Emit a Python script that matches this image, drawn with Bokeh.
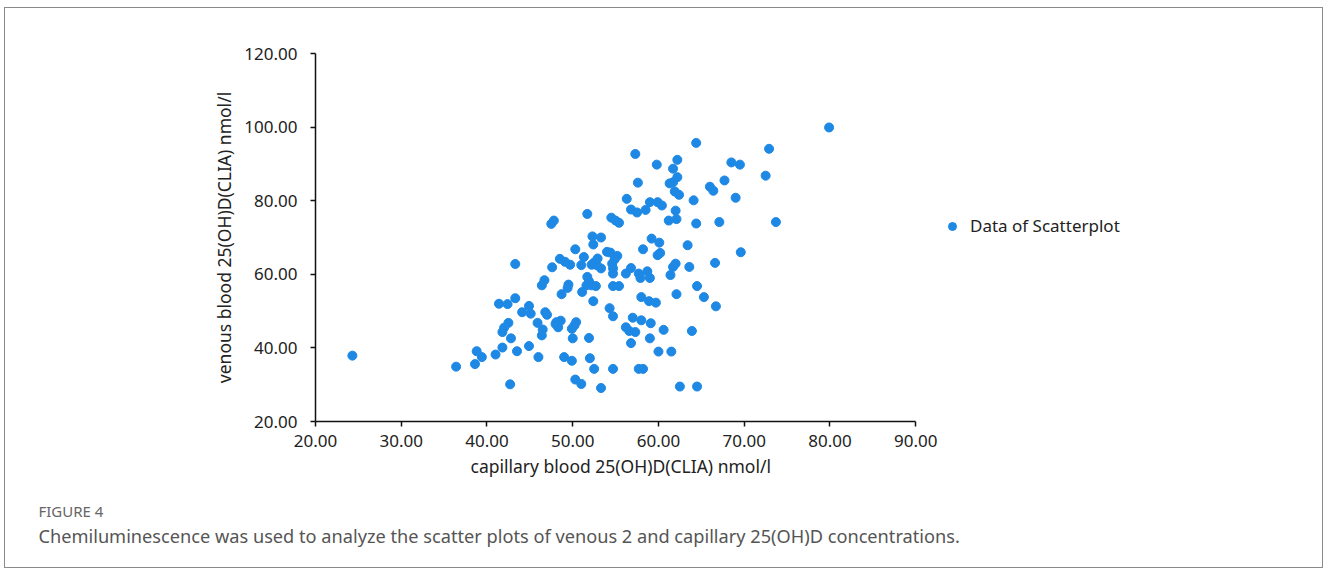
from bokeh.plotting import figure
from bokeh.models import (Legend, LegendItem, Title, FixedTicker,
                          NumeralTickFormatter, Range1d)
from bokeh.embed import file_html
from bokeh.resources import INLINE

# ---------------- data ----------------
capillary = [
    43.3, 48.5, 47.6, 46.7, 46.4, 48.7, 41.4, 42.4, 43.3, 44.9,
    44.1, 45.1, 46.8, 47.0, 48.1, 48.3, 48.0, 48.6, 45.9, 46.5,
    46.4, 42.5, 42.0, 41.8, 42.8, 41.8, 43.5, 44.9, 46.0, 38.8,
    39.4, 38.6, 41.0, 36.4, 42.7, 49.0, 24.3,
    52.3, 53.3, 52.4, 59.2, 60.1, 63.4, 50.3, 58.2, 60.2, 59.9,
    54.0, 54.4, 55.2, 54.9, 54.6, 54.7, 54.7, 51.3, 49.1, 49.7,
    51.0, 52.9, 52.5, 52.2, 52.8, 53.3, 56.8, 56.2, 57.7, 57.9,
    58.7, 59.0, 62.0, 61.7, 61.4, 63.6, 64.5, 62.1, 51.7, 51.9,
    52.2, 52.7, 51.6, 49.5, 49.4, 51.1, 54.7, 55.4, 52.4, 58.0,
    58.9, 59.7, 54.3, 54.7, 50.4, 50.2, 49.9, 50.0, 51.9, 57.0,
    58.0, 59.1, 56.2, 56.6, 57.3, 56.8, 59.0, 60.6, 63.9, 60.0,
    61.5, 49.9, 52.0, 52.5, 54.7, 57.7, 58.2, 50.3, 51.0, 53.3,
    62.5, 64.5,
    57.3, 59.8, 62.2, 61.7, 57.6, 62.2, 61.7, 61.3, 61.9, 62.4,
    56.3, 59.0, 59.9, 60.4, 56.8, 57.5, 58.5, 62.0, 61.2, 62.1,
    51.7, 47.8, 47.5, 54.5, 55.0, 55.4,
    64.4, 72.9, 68.5, 69.5, 72.5, 67.7, 66.0, 66.4, 64.1, 69.0,
    64.4, 67.1, 73.7, 69.6, 66.6, 65.3, 66.7, 79.9,
]
venous = [
    62.8, 64.2, 61.9, 58.4, 57.0, 54.6, 52.0, 51.9, 53.5, 51.4,
    49.7, 49.3, 49.7, 49.0, 47.0, 45.6, 46.5, 47.4, 46.8, 45.0,
    43.4, 46.8, 45.5, 44.3, 42.6, 40.1, 39.1, 40.5, 37.5, 39.1,
    37.5, 35.6, 38.2, 34.9, 30.1, 37.5, 37.9,
    70.3, 70.0, 68.1, 69.7, 68.6, 67.9, 66.8, 66.8, 65.8, 65.2,
    66.1, 65.9, 65.0, 64.1, 62.9, 61.6, 60.2, 64.7, 63.4, 62.6,
    62.5, 64.3, 63.2, 62.6, 62.5, 61.6, 61.7, 60.2, 60.2, 59.0,
    60.8, 59.0, 62.9, 62.0, 59.8, 62.0, 56.8, 54.6, 59.3, 58.1,
    57.0, 56.8, 57.0, 57.2, 56.3, 55.2, 56.8, 56.8, 52.7, 53.8,
    52.7, 52.3, 50.8, 48.6, 47.0, 46.1, 45.2, 42.6, 42.7, 48.2,
    47.5, 46.7, 45.6, 44.6, 44.3, 41.3, 42.6, 44.9, 44.6, 39.0,
    39.0, 36.5, 37.2, 34.3, 34.3, 34.3, 34.3, 31.4, 30.2, 29.1,
    29.5, 29.5,
    92.7, 89.8, 91.1, 88.7, 84.9, 86.4, 85.0, 84.7, 82.5, 81.6,
    80.5, 79.6, 79.6, 78.7, 77.6, 76.8, 77.5, 77.3, 74.6, 75.0,
    76.4, 74.6, 73.7, 75.4, 74.6, 74.0,
    95.7, 94.1, 90.4, 89.8, 86.8, 85.5, 83.8, 82.7, 80.1, 80.8,
    73.8, 74.2, 74.2, 66.0, 63.1, 53.8, 51.3, 99.9,
]
x_ticks = [20, 30, 40, 50, 60, 70, 80, 90]
y_ticks = [20, 40, 60, 80, 100, 120]
series_name = "Data of Scatterplot"
x_title = "capillary blood 25(OH)D(CLIA) nmol/l"
y_title = "venous blood 25(OH)D(CLIA) nmol/l"
fig_label = "FIGURE 4"
caption = ("Chemiluminescence was used to analyze the scatter plots of "
           "venous 2 and capillary 25(OH)D concentrations.")

FONT = "Noto Sans"
BLUE = "#1E88E5"
TXT = "#222222"

# layout constants (pixels)
W, H = 1319, 561
LEFT = 310
AXIS_PX = 599          # pixels spanned by the x axis (20 -> 90)
frame_w = W - 2 - LEFT
x_end = x_ticks[0] + (x_ticks[-1] - x_ticks[0]) * frame_w / AXIS_PX

p = figure(width=W, height=H, output_backend="svg", toolbar_location=None,
           x_range=Range1d(x_ticks[0], x_end),
           y_range=Range1d(y_ticks[0], y_ticks[-1]),
           min_border_left=LEFT, min_border_right=0,
           min_border_top=45, min_border_bottom=148,
           margin=(7, 0, 0, 4))
p.outline_line_color = None
p.xgrid.visible = False
p.ygrid.visible = False
p.styles = {"border": "1px solid #8a8a8a"}

r = p.scatter(capillary, venous, size=9, color=BLUE, line_color=BLUE)

for ax, ticks in ((p.xaxis[0], x_ticks), (p.yaxis[0], y_ticks)):
    ax.ticker = FixedTicker(ticks=ticks)
    ax.bounds = (ticks[0], ticks[-1])
    ax.formatter = NumeralTickFormatter(format="0.00")
    ax.axis_line_color = "#111111"
    ax.axis_line_width = 1.5
    ax.major_tick_line_color = "#111111"
    ax.major_tick_line_width = 1.5
    ax.major_tick_in = 0
    ax.major_tick_out = 5
    ax.minor_tick_line_color = None
    ax.major_label_text_font = FONT
    ax.major_label_text_font_size = "17px"
    ax.major_label_text_color = TXT
    ax.axis_label_text_font = FONT
    ax.axis_label_text_font_size = "17.5px"
    ax.axis_label_text_font_style = "normal"
    ax.axis_label_text_color = TXT

p.yaxis.axis_label = y_title
p.xaxis.major_label_standoff = 8
p.yaxis.major_label_standoff = 13
p.yaxis.axis_label_standoff = 5

legend = Legend(items=[LegendItem(label=series_name, renderers=[r])],
                location=(627, 184), padding=0, margin=0,
                border_line_color=None, background_fill_alpha=0,
                label_text_font=FONT, label_text_font_size="17px",
                label_text_color=TXT, label_standoff=8)
p.add_layout(legend, "center")

# x axis title, placed under the visible axis (frame is wider than the axis)
p.add_layout(Title(text=x_title, align="left", offset=155,
                   text_font=FONT, text_font_size="17.5px",
                   text_font_style="normal", text_color=TXT,
                   standoff=4), "below")
p.add_layout(Title(text=fig_label, align="left", offset=-277,
                   text_font=FONT, text_font_size="15px",
                   text_font_style="normal", text_color="#666666",
                   standoff=38), "below")
p.add_layout(Title(text=caption, align="left", offset=-277,
                   vertical_align="top",
                   text_font=FONT, text_font_size="18.2px",
                   text_font_style="normal", text_color="#555555",
                   standoff=-32), "below")

open("out.html", "w").write(file_html(p, INLINE))
